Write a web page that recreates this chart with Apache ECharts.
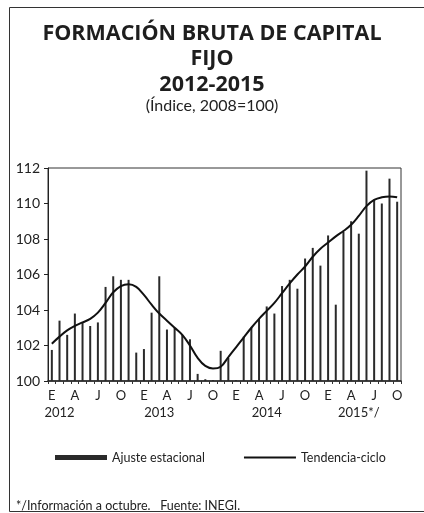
<!DOCTYPE html>
<html>
<head>
<meta charset="utf-8">
<script src="https://cdn.jsdelivr.net/npm/echarts@6/dist/echarts.min.js"></script>
<style>
  html, body { margin: 0; padding: 0; background: #fff; }
  #chart { width: 424px; height: 513px; }
</style>
</head>
<body>
<div id="chart"></div>
<script>
// ---- data ----
const monthLetters = ['E', 'F', 'M', 'A', 'M', 'J', 'J', 'A', 'S', 'O', 'N', 'D'];
const years = ['2012', '2013', '2014', '2015'];
const yearLabels = ['2012', '2013', '2014', '2015*/'];
const yearLabelMonth = [1, 14, 28, 40];
const monthCount = 46;

const ajusteEstacional = [
  101.75, 103.4, 102.6, 103.8, 103.3, 103.1, 103.3, 105.3, 105.9, 105.7, 105.7, 101.6,
  101.8, 103.85, 105.9, 102.9, 103.0, 102.6, 102.35, 100.4, 100.1, 100.05, 101.7, 101.3,
  100.05, 102.5, 103.0, 103.5, 104.2, 103.8, 105.35, 105.7, 105.2, 106.9, 107.5, 106.5,
  108.2, 104.3, 108.4, 109.0, 108.3, 111.85, 110.2, 110.0, 111.4, 110.1
];
const tendenciaCiclo = [
  102.1, 102.5, 102.85, 103.1, 103.3, 103.5, 103.85, 104.4, 105.0, 105.35, 105.45, 105.3,
  104.85, 104.3, 103.8, 103.4, 103.0, 102.6, 102.0, 101.3, 100.85, 100.7, 100.8, 101.35,
  101.9, 102.45, 103.0, 103.5, 103.95, 104.4, 104.95, 105.5, 106.0, 106.45, 107.0, 107.45,
  107.8, 108.15, 108.45, 108.8, 109.3, 109.85, 110.2, 110.35, 110.4, 110.35
];
const yMin = 100, yMax = 112, yStep = 2;

// ---- build categories ----
const categories = [];
for (let i = 0; i < monthCount; i++) {
  categories.push(years[Math.floor(i / 12)] + '-' + monthLetters[i % 12] + '-' + i);
}
const yearRow = categories.map(() => '');
yearLabelMonth.forEach((m, k) => { yearRow[m] = yearLabels[k]; });

const FONT = 'Lato';
const chart = echarts.init(document.getElementById('chart'), null, { renderer: 'canvas' });
chart.setOption({
  backgroundColor: '#fff',
  animation: false,
  textStyle: { fontFamily: FONT },
  title: [
    {
      text: 'FORMACIÓN BRUTA DE CAPITAL\nFIJO\n2012-2015',
      left: 'center', top: 16,
      textStyle: { fontFamily: 'Open Sans', fontSize: 21.5, fontWeight: 'bold', color: '#1e1e1e', lineHeight: 25.5 }
    },
    {
      text: '(Índice, 2008=100)',
      left: 'center', top: 93,
      textStyle: { fontFamily: FONT, fontSize: 16, fontWeight: 'normal', color: '#222' }
    },
    {
      text: '*/Información a octubre.   Fuente: INEGI.',
      left: 11, top: 494,
      textStyle: { fontFamily: FONT, fontSize: 12.5, fontWeight: 'normal', color: '#222' }
    }
  ],
  graphic: [
    {
      type: 'rect', left: 7, top: 5, silent: true,
      shape: { width: 440, height: 504 },
      style: { fill: 'none', stroke: '#333', lineWidth: 1 }
    }
  ],
  legend: {
    left: 50, top: 446,
    itemWidth: 52, itemHeight: 5, itemGap: 38,
    textStyle: { fontFamily: FONT, fontSize: 12.5, color: '#222' },
    data: [
      { name: 'Ajuste estacional', icon: 'rect' },
      { name: 'Tendencia-ciclo', itemStyle: { opacity: 0 } }
    ]
  },
  grid: {
    left: 48, right: 23, top: 168, bottom: 132,
    show: true, borderColor: '#333', borderWidth: 1
  },
  xAxis: [
    {
      type: 'category',
      data: categories,
      boundaryGap: true,
      axisLine: { show: true, lineStyle: { color: '#222', width: 1.5 } },
      axisTick: { show: true, interval: 0, length: 3, lineStyle: { color: '#333' } },
      axisLabel: {
        interval: 2, margin: 8, fontSize: 13, color: '#222', fontFamily: FONT,
        formatter: (v) => v.split('-')[1]
      },
      splitLine: { show: false }
    },
    {
      type: 'category',
      data: yearRow,
      position: 'bottom',
      offset: 17,
      boundaryGap: true,
      axisLine: { show: false },
      axisTick: { show: false },
      axisLabel: { interval: 0, margin: 8, fontSize: 13, color: '#222', fontFamily: FONT },
      splitLine: { show: false }
    }
  ],
  yAxis: {
    type: 'value',
    min: yMin, max: yMax, interval: yStep,
    axisLine: { show: true, lineStyle: { color: '#222', width: 1 } },
    axisTick: { show: true, length: 4, lineStyle: { color: '#222' } },
    axisLabel: { fontSize: 14, color: '#222', margin: 8, fontFamily: FONT },
    splitLine: { show: false }
  },
  series: [
    {
      name: 'Ajuste estacional',
      type: 'bar',
      data: ajusteEstacional,
      barWidth: 2,
      itemStyle: { color: '#2a2a2a' }
    },
    {
      name: 'Tendencia-ciclo',
      type: 'line',
      data: tendenciaCiclo,
      smooth: 0.4,
      symbol: 'none',
      lineStyle: { color: '#111', width: 2 },
      itemStyle: { color: '#111' }
    }
  ]
});
</script>
</body>
</html>
